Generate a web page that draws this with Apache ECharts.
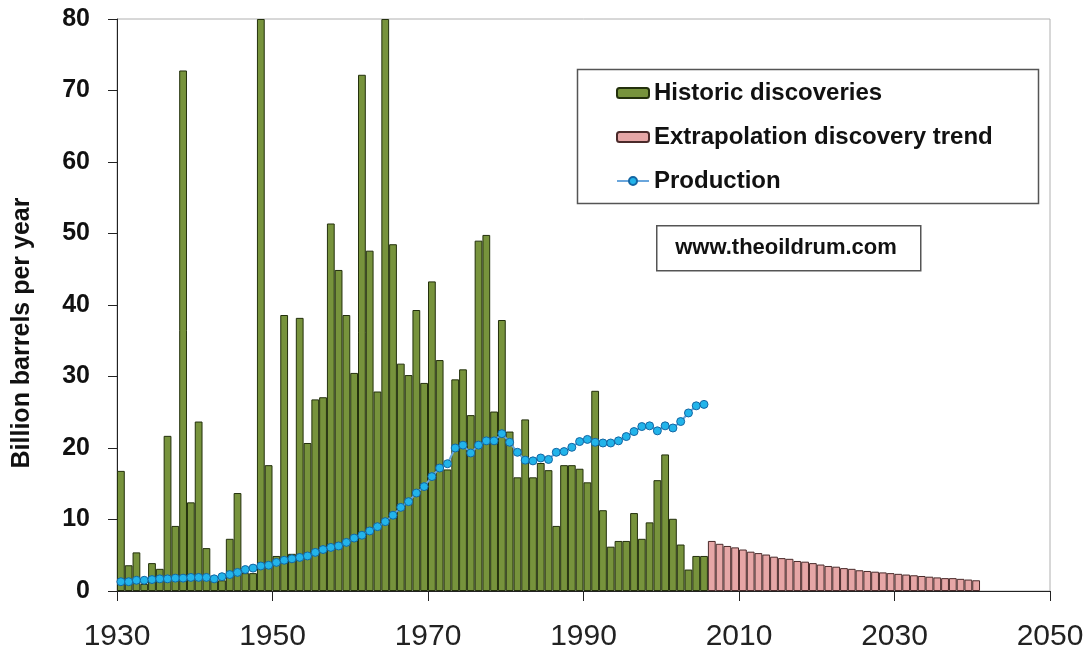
<!DOCTYPE html>
<html>
<head>
<meta charset="utf-8">
<script src="https://cdn.jsdelivr.net/npm/echarts@6/dist/echarts.min.js"></script>
<style>
html,body{margin:0;padding:0;background:#fff;}
#chart{width:1092px;height:656px;}
</style>
</head>
<body>
<div id="chart"></div>
<script>
// ---- data ----
const firstYear = 1930;
const lastYear = 2049;
const xTickLabels = [1930, 1950, 1970, 1990, 2010, 2030, 2050];
const yTickLabels = [0, 10, 20, 30, 40, 50, 60, 70, 80];

// Historic discoveries, 1930-2005 (billion barrels)
const historicYears = [1930,1931,1932,1933,1934,1935,1936,1937,1938,1939,
  1940,1941,1942,1943,1944,1945,1946,1947,1948,1949,
  1950,1951,1952,1953,1954,1955,1956,1957,1958,1959,
  1960,1961,1962,1963,1964,1965,1966,1967,1968,1969,
  1970,1971,1972,1973,1974,1975,1976,1977,1978,1979,
  1980,1981,1982,1983,1984,1985,1986,1987,1988,1989,
  1990,1991,1992,1993,1994,1995,1996,1997,1998,1999,
  2000,2001,2002,2003,2004,2005];
const historicDiscoveries = [16.8,3.6,5.4,1.0,3.9,3.1,21.7,9.1,72.8,12.4,
  23.7,6.0,1.5,1.5,7.3,13.7,2.5,2.5,80,17.6,
  4.9,38.6,5.2,38.2,20.7,26.8,27.1,51.4,44.9,38.6,
  30.5,72.2,47.6,27.9,80,48.5,31.8,30.2,39.3,29.1,
  43.3,32.3,17.0,29.6,31.0,24.6,49.0,49.8,25.1,37.9,
  22.3,15.9,24.0,15.9,17.9,16.9,9.1,17.6,17.6,17.1,
  15.2,28.0,11.3,6.2,7.0,7.0,10.9,7.3,9.6,15.5,
  19.1,10.1,6.5,3.0,4.9,4.9];

// Extrapolated discovery trend, 2006-2040
const trendYears = [2006,2007,2008,2009,2010,2011,2012,2013,2014,2015,
  2016,2017,2018,2019,2020,2021,2022,2023,2024,2025,
  2026,2027,2028,2029,2030,2031,2032,2033,2034,2035,
  2036,2037,2038,2039,2040];
const trendDiscoveries = [7.0,6.6,6.3,6.1,5.8,5.5,5.3,5.1,4.8,4.6,
  4.5,4.2,4.1,3.9,3.7,3.5,3.4,3.2,3.1,2.9,
  2.8,2.7,2.6,2.5,2.4,2.3,2.2,2.1,2.0,1.9,
  1.8,1.8,1.7,1.6,1.5];

// Production, 1930-2005
const productionYears = historicYears;
const production = [1.3,1.3,1.5,1.5,1.6,1.7,1.7,1.8,1.8,1.9,
  1.9,1.9,1.7,2.0,2.3,2.6,3.0,3.2,3.5,3.6,
  4.0,4.3,4.5,4.7,4.9,5.4,5.8,6.1,6.3,6.8,
  7.4,7.8,8.4,9.0,9.7,10.6,11.7,12.5,13.7,14.6,
  16.0,17.2,17.8,20.0,20.4,19.3,20.4,21.0,21.0,22.0,
  20.8,19.4,18.3,18.2,18.6,18.4,19.4,19.5,20.1,20.9,
  21.2,20.8,20.7,20.7,21.0,21.6,22.3,23.0,23.1,22.4,
  23.1,22.8,23.7,24.9,25.9,26.1];

// ---- build ----
const categories = [];
for (let y = firstYear; y <= lastYear; y++) categories.push(String(y));
function place(years, vals) {
  const out = categories.map(() => null);
  years.forEach((y, i) => { out[y - firstYear] = vals[i]; });
  return out;
}

const chart = echarts.init(document.getElementById('chart'), null, {renderer: 'canvas'});
const FONT = 'Liberation Sans, Arial, sans-serif';

chart.setOption({
  animation: false,
  backgroundColor: '#fff',
  grid: {left: 117, right: 42, top: 19, bottom: 65, show: true, borderColor: '#b0b0b0', borderWidth: 1},
  legend: {
    orient: 'vertical',
    left: 611, top: 76,
    itemWidth: 32, itemHeight: 10,
    itemGap: 20,
    textStyle: {fontFamily: FONT, fontWeight: 'bold', fontSize: 24, color: '#111', lineHeight: 24},
    data: ['Historic discoveries', 'Extrapolation discovery trend', 'Production']
  },
  xAxis: [
    {type: 'category', data: categories, show: false, boundaryGap: true},
    {type: 'value', min: 1930, max: 2050, interval: 20, position: 'bottom',
      axisLine: {show: true, lineStyle: {color: '#222', width: 1}},
      axisTick: {show: true, length: 10, lineStyle: {color: '#222'}},
      splitLine: {show: false},
      axisLabel: {fontFamily: FONT, fontSize: 30, color: '#222', margin: 31,
        formatter: v => xTickLabels.includes(v) ? String(v) : ''}
    }
  ],
  yAxis: {
    type: 'value', min: 0, max: 80, interval: 10,
    axisLine: {show: true, lineStyle: {color: '#222', width: 1}},
    axisTick: {show: true, length: 9, lineStyle: {color: '#222'}},
    splitLine: {show: false},
    axisLabel: {fontFamily: FONT, fontWeight: 'bold', fontSize: 25, color: '#111', margin: 27,
      formatter: v => yTickLabels.includes(v) ? String(v) : ''}
  },
  graphic: [
    {type: 'rect', left: 575, top: 67, shape: {width: 461, height: 134},
      style: {fill: 'none', stroke: '#555', lineWidth: 1.5}, z: 1},
    {type: 'rect', left: 656, top: 225, shape: {width: 264, height: 45},
      style: {fill: '#fff', stroke: '#555', lineWidth: 1.5}, z: 1},
    {type: 'text', x: 786, y: 248, z: 2,
      style: {text: 'www.theoildrum.com', font: 'bold 22px ' + FONT, fill: '#111',
        textAlign: 'center', textVerticalAlign: 'middle'}},
    {type: 'text', x: 22, y: 333, rotation: Math.PI / 2, z: 2,
      style: {text: 'Billion barrels per year', font: 'bold 25px ' + FONT, fill: '#111',
        textAlign: 'center', textVerticalAlign: 'middle'}}
  ],
  series: [
    {name: 'Historic discoveries', type: 'bar', xAxisIndex: 0,
      data: place(historicYears, historicDiscoveries),
      barGap: '-100%', barCategoryGap: '0%',
      itemStyle: {color: '#77933C', borderColor: '#23300c', borderWidth: 1}},
    {name: 'Extrapolation discovery trend', type: 'bar', xAxisIndex: 0,
      data: place(trendYears, trendDiscoveries),
      barGap: '-100%', barCategoryGap: '0%',
      itemStyle: {color: '#E6A6A6', borderColor: '#4a2a2a', borderWidth: 1}},
    {name: 'Production', type: 'line', xAxisIndex: 0,
      data: place(productionYears, production),
      symbol: 'circle', symbolSize: 8, showSymbol: true, showAllSymbol: true, z: 5,
      lineStyle: {color: '#6aa6dc', width: 2},
      itemStyle: {color: '#22b4ea', borderColor: '#1466a3', borderWidth: 1}}
  ]
});
</script>
</body>
</html>
